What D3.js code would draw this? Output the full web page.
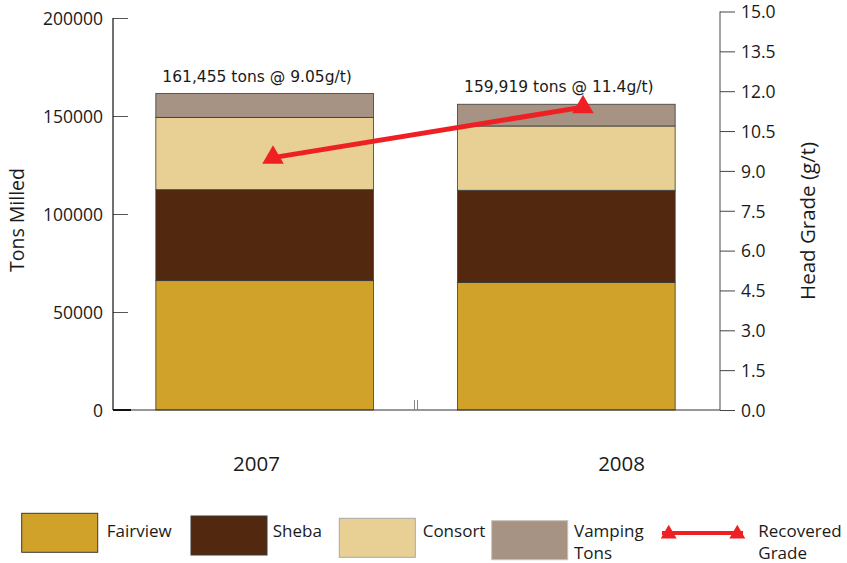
<!DOCTYPE html>
<html>
<head>
<meta charset="utf-8">
<script src="https://cdn.jsdelivr.net/npm/d3@7"></script>
<style>
  html, body { margin: 0; padding: 0; background: #fff; }
  svg { display: block; }
  .ax { font-family: "Open Sans", "Noto Sans", sans-serif; fill: #1a1a1a; }
  .ann { font-family: "DejaVu Sans", Verdana, sans-serif; fill: #1a1a1a; }
</style>
</head>
<body>
<svg id="chart" width="847" height="563"></svg>
<script>
// ---- data ----
const years = ["2007", "2008"];
const seriesNames = ["Fairview", "Sheba", "Consort", "Vamping Tons"];
const fairview = [66000, 65000];
const sheba = [46400, 47100];
const consort = [36900, 32800];
const vamping = [12155, 11100];
const recoveredGrade = [9.5, 11.4];
const annotations = ["161,455 tons @ 9.05g/t)", "159,919 tons @ 11.4g/t)"];
const leftTicks = [0, 50000, 100000, 150000, 200000];
const rightTicks = [0, 1.5, 3, 4.5, 6, 7.5, 9, 10.5, 12, 13.5, 15];
const seriesColors = ["#D1A22A", "#52290F", "#E8D094", "#A69384"];
const legendBorders = ["#3a3a3a", "#3a3a3a", "#a8a8a8", "#c8c0b8"];
const red = "#EE2024";

const svg = d3.select("#chart");

const yL = d3.scaleLinear().domain([0, 200000]).range([410, 18]);
const yR = d3.scaleLinear().domain([0, 15]).range([410, 11.5]);
const x = d3.scaleBand().domain(years).range([113, 718]).paddingInner(0.279).paddingOuter(0.142);
const xLine = d3.scalePoint().domain(years).range([273, 583]);
const xLabel = d3.scalePoint().domain(years).range([256.5, 621.6]);

// stacked data
const table = years.map((yr, i) => ({
  year: yr, Fairview: fairview[i], Sheba: sheba[i], Consort: consort[i], "Vamping Tons": vamping[i]
}));
const stack = d3.stack().keys(seriesNames)(table);

// bars
const gBars = svg.append("g");
stack.forEach((layer, k) => {
  gBars.selectAll(null).data(layer).enter().append("rect")
    .attr("x", d => x(d.data.year))
    .attr("width", x.bandwidth())
    .attr("y", d => yL(d[1]))
    .attr("height", d => yL(d[0]) - yL(d[1]))
    .attr("fill", seriesColors[k])
    .attr("stroke", "#3a3a3a")
    .attr("stroke-width", 0.8);
});

// left axis
const axL = svg.append("g").attr("transform", "translate(113,0)")
  .call(d3.axisRight(yL).tickValues(leftTicks).tickSize(15).tickFormat(""));
axL.select(".domain").remove();
axL.selectAll(".tick line").attr("stroke", "#555").attr("stroke-width", 1);
svg.append("line").attr("x1", 113).attr("x2", 113).attr("y1", yL(200000)).attr("y2", 410)
  .attr("stroke", "#111").attr("stroke-width", 1.2);
svg.selectAll(null).data(leftTicks).enter().append("text")
  .attr("class", "ax")
  .attr("x", 103).attr("y", d => yL(d) + 6.5)
  .attr("text-anchor", "end").attr("font-size", 17.5)
  .text(d => d);

// right axis
const axR = svg.append("g").attr("transform", "translate(720,0)")
  .call(d3.axisRight(yR).tickValues(rightTicks).tickSize(15).tickFormat(d3.format(".1f")));
axR.select(".domain").attr("stroke", "#666").attr("stroke-width", 1.2).attr("d", `M0,${yR(15)}V410`);
axR.selectAll(".tick line").attr("stroke", "#444");
axR.selectAll(".tick text").attr("class", "ax").attr("x", 21).attr("dy", "0.36em")
  .attr("font-size", 17.5).attr("fill", "#1a1a1a");

// x axis baseline
svg.append("line").attr("x1", 113).attr("x2", 720).attr("y1", 410).attr("y2", 410)
  .attr("stroke", "#333").attr("stroke-width", 1.2);
svg.append("line").attr("x1", 113).attr("x2", 131).attr("y1", 410).attr("y2", 410)
  .attr("stroke", "#111").attr("stroke-width", 2);
// small tick marks near middle
svg.append("line").attr("x1", 414.5).attr("x2", 414.5).attr("y1", 400).attr("y2", 410)
  .attr("stroke", "#888").attr("stroke-width", 1);
svg.append("line").attr("x1", 417.5).attr("x2", 417.5).attr("y1", 400).attr("y2", 410)
  .attr("stroke", "#7a80c8").attr("stroke-width", 1);

// year labels
svg.selectAll(null).data(years).enter().append("text")
  .attr("class", "ax")
  .attr("x", d => xLabel(d)).attr("y", 471)
  .attr("text-anchor", "middle").attr("font-size", 20.5)
  .text(d => d);

// axis titles
svg.append("text").attr("class", "ax")
  .attr("transform", "translate(24,220) rotate(-90)")
  .attr("text-anchor", "middle").attr("font-size", 19.5)
  .text("Tons Milled");
svg.append("text").attr("class", "ax")
  .attr("transform", "translate(815,221) rotate(-90)")
  .attr("text-anchor", "middle").attr("font-size", 20.5)
  .text("Head Grade (g/t)");

// annotations
const totals = table.map(d => seriesNames.reduce((s, k) => s + d[k], 0));
svg.selectAll(null).data(years).enter().append("text")
  .attr("class", "ann")
  .attr("x", d => x(d) + 6.5)
  .attr("y", (d, i) => yL(totals[i]) - 12)
  .attr("font-size", 15.5)
  .text((d, i) => annotations[i]);

// recovered grade line
const pts = years.map((yr, i) => [xLine(yr), yR(recoveredGrade[i])]);
svg.append("path")
  .attr("d", d3.line()(pts))
  .attr("stroke", red).attr("stroke-width", 5).attr("fill", "none");
svg.selectAll(null).data(pts).enter().append("path")
  .attr("transform", d => `translate(${d[0]},${d[1]})`)
  .attr("d", d3.symbol(d3.symbolTriangle, 200)())
  .attr("fill", red);

// legend
const legendX = [21.7, 191, 339.3, 491.7];
const legendY = [513.3, 516, 518.3, 520.7];
const legendTextX = [106.7, 272.7, 422.7, 574];
const legendLines = [["Fairview"], ["Sheba"], ["Consort"], ["Vamping", "Tons"]];
seriesNames.forEach((name, k) => {
  svg.append("rect")
    .attr("x", legendX[k]).attr("y", legendY[k])
    .attr("width", 76).attr("height", 39)
    .attr("fill", seriesColors[k]).attr("stroke", legendBorders[k]).attr("stroke-width", 1);
  legendLines[k].forEach((w, j) => {
    svg.append("text").attr("class", "ax").attr("font-size", 17)
      .attr("x", legendTextX[k]).attr("y", 537 + j * 22).text(w);
  });
});
// line legend
svg.append("line").attr("x1", 662).attr("x2", 743).attr("y1", 533).attr("y2", 533)
  .attr("stroke", red).attr("stroke-width", 4);
[668.7, 737.3].forEach(cx => {
  svg.append("path").attr("transform", `translate(${cx},${534})`)
    .attr("d", d3.symbol(d3.symbolTriangle, 110)()).attr("fill", red);
});
["Recovered", "Grade"].forEach((w, j) => {
  svg.append("text").attr("class", "ax").attr("font-size", 17)
    .attr("x", 758.3).attr("y", 537 + j * 22).text(w);
});
</script>
</body>
</html>
